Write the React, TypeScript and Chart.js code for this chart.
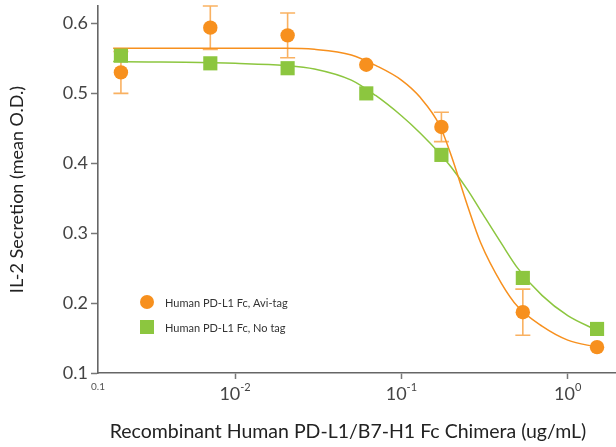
import React, { useEffect, useRef } from "react";
import { Chart, registerables, ChartOptions, Plugin } from "chart.js";

Chart.register(...registerables);

// concentrations (ug/mL)
const concentrations = [0.00206, 0.0071, 0.0207, 0.0615, 0.174, 0.537, 1.5];
const aviTagValues = [0.53, 0.594, 0.583, 0.541, 0.452, 0.187, 0.137];
const aviTagErrors = [0.03, 0.031, 0.032, 0, 0.021, 0.033, 0];
const noTagValues = [0.554, 0.543, 0.536, 0.5, 0.412, 0.236, 0.163];

// fitted curves
const curveX = [
  0.00185, 0.003, 0.005, 0.01, 0.02, 0.03, 0.05, 0.07, 0.1, 0.13, 0.17, 0.2,
  0.25, 0.3, 0.4, 0.5, 0.7, 1.0, 1.5,
];
const aviTagCurve = [
  0.5645, 0.5645, 0.5645, 0.5645, 0.5645, 0.563, 0.555, 0.54, 0.519, 0.494,
  0.454, 0.41, 0.339, 0.286, 0.228, 0.195, 0.167, 0.147, 0.137,
];
const noTagCurve = [
  0.5455, 0.545, 0.5445, 0.543, 0.54, 0.535, 0.519, 0.497, 0.468, 0.443,
  0.414, 0.394, 0.362, 0.332, 0.285, 0.25, 0.211, 0.182, 0.161,
];

const yTicks = [0.1, 0.2, 0.3, 0.4, 0.5, 0.6];
const xTicks = [0.01, 0.1, 1];
const xTickExponents = ["-2", "-1", "0"];
const xMinLabel = "0.1";

const legendLabels = ["Human PD-L1 Fc, Avi-tag", "Human PD-L1 Fc, No tag"];
const xTitle = "Recombinant Human PD-L1/B7-H1 Fc Chimera (ug/mL)";
const yTitle = "IL-2 Secretion (mean O.D.)";

const ORANGE = "#f7901e";
const GREEN = "#8cc63f";
const FONT = "Lato, 'Open Sans', sans-serif";

const errorBars: Plugin<"line"> = {
  id: "errorBars",
  beforeDatasetsDraw(chart) {
    const { ctx } = chart;
    const x = chart.scales.x;
    const y = chart.scales.y;
    ctx.save();
    ctx.strokeStyle = "rgba(247,144,30,0.7)";
    ctx.lineWidth = 1.6;
    concentrations.forEach((c, i) => {
      const e = aviTagErrors[i];
      if (!e) return;
      const px = x.getPixelForValue(c);
      const top = y.getPixelForValue(aviTagValues[i] + e);
      const bot = y.getPixelForValue(aviTagValues[i] - e);
      ctx.beginPath();
      ctx.moveTo(px, top);
      ctx.lineTo(px, bot);
      ctx.moveTo(px - 7.5, top);
      ctx.lineTo(px + 7.5, top);
      ctx.moveTo(px - 7.5, bot);
      ctx.lineTo(px + 7.5, bot);
      ctx.stroke();
    });
    ctx.restore();
  },
};

const extras: Plugin<"line"> = {
  id: "extras",
  afterDraw(chart) {
    const { ctx, chartArea } = chart;
    const x = chart.scales.x;
    const labelY = chartArea.bottom + 27;
    ctx.save();
    ctx.fillStyle = "#444";
    ctx.textBaseline = "alphabetic";
    // x tick labels with superscripts
    xTicks.forEach((t, i) => {
      const px = x.getPixelForValue(t);
      ctx.font = `18px ${FONT}`;
      const w1 = ctx.measureText("10").width;
      ctx.font = `11px ${FONT}`;
      const w2 = ctx.measureText(xTickExponents[i]).width;
      const start = px - (w1 + w2) / 2;
      ctx.font = `18px ${FONT}`;
      ctx.textAlign = "left";
      ctx.fillText("10", start, labelY);
      ctx.font = `11px ${FONT}`;
      ctx.fillText(xTickExponents[i], start + w1, labelY - 9);
    });
    ctx.font = `10px ${FONT}`;
    ctx.textAlign = "center";
    ctx.fillStyle = "#555";
    ctx.fillText(xMinLabel, chartArea.left, chartArea.bottom + 17);

    // x axis title
    ctx.fillStyle = "#222";
    ctx.font = `19.5px ${FONT}`;
    ctx.textBaseline = "middle";
    ctx.fillText(xTitle, chartArea.left + 250, chartArea.bottom + 59);

    // legend
    const lx = chartArea.left + 49;
    const ly = [302, 327];
    ctx.fillStyle = ORANGE;
    ctx.beginPath();
    ctx.arc(lx, ly[0], 7, 0, Math.PI * 2);
    ctx.fill();
    ctx.fillStyle = GREEN;
    ctx.fillRect(lx - 7, ly[1] - 7, 14, 14);
    ctx.fillStyle = "#333";
    ctx.font = `11px ${FONT}`;
    ctx.textAlign = "left";
    legendLabels.forEach((l, i) => ctx.fillText(l, lx + 18, ly[i] + 1));
    ctx.restore();
  },
};

const App: React.FC = () => {
  const canvasRef = useRef<HTMLCanvasElement>(null);

  useEffect(() => {
    if (!canvasRef.current) return;
    const ctx = canvasRef.current.getContext("2d")!;

    const options: ChartOptions<"line"> = {
      responsive: true,
      maintainAspectRatio: false,
      animation: false,
      layout: {
        autoPadding: false,
        padding: { top: 6, left: 0, right: 0, bottom: 0 },
      },
      scales: {
        x: {
          type: "logarithmic",
          min: 0.0015,
          max: 1.95,
          afterBuildTicks: (s) => {
            s.ticks = xTicks.map((v) => ({ value: v }));
          },
          afterFit: (s) => {
            s.height = 74;
            s.paddingLeft = 0;
            s.paddingRight = 0;
          },
          ticks: { display: false },
          grid: {
            drawOnChartArea: false,
            drawTicks: true,
            tickLength: 6,
            tickWidth: 1.5,
            tickColor: "#777",
          },
          border: { color: "#666", width: 1.6 },
        },
        y: {
          type: "linear",
          min: 0.1,
          max: 0.625,
          afterBuildTicks: (s) => {
            s.ticks = yTicks.map((v) => ({ value: v }));
          },
          afterFit: (s) => {
            s.width = 98;
            s.paddingTop = 0;
            s.paddingBottom = 0;
          },
          ticks: {
            font: { family: FONT, size: 18 },
            color: "#444",
            padding: 3,
            callback: (v) => Number(v).toFixed(1),
          },
          grid: {
            drawOnChartArea: false,
            drawTicks: true,
            tickLength: 7,
            tickWidth: 1.5,
            tickColor: "#777",
          },
          border: { color: "#666", width: 1.6 },
          title: {
            display: true,
            text: yTitle,
            font: { family: FONT, size: 18 },
            color: "#222",
            padding: { top: 6, bottom: 0 },
          },
        },
      },
      plugins: {
        legend: { display: false },
        tooltip: { enabled: false },
      },
    };

    const chart = new Chart(ctx, {
      type: "line",
      data: {
        datasets: [
          {
            label: legendLabels[0],
            data: concentrations.map((c, i) => ({ x: c, y: aviTagValues[i] })),
            showLine: false,
            pointStyle: "circle",
            pointRadius: 7.2,
            pointBorderWidth: 0,
            pointBackgroundColor: ORANGE,
            borderColor: ORANGE,
            order: 0,
          },
          {
            label: legendLabels[1],
            data: concentrations.map((c, i) => ({ x: c, y: noTagValues[i] })),
            showLine: false,
            pointStyle: "rect",
            pointRadius: 10,
            pointBorderWidth: 0,
            pointBackgroundColor: GREEN,
            borderColor: GREEN,
            order: 0,
          },
          {
            label: "Avi-tag fit",
            data: curveX.map((c, i) => ({ x: c, y: aviTagCurve[i] })),
            borderColor: ORANGE,
            borderWidth: 1.5,
            pointRadius: 0,
            cubicInterpolationMode: "monotone",
            order: 1,
          },
          {
            label: "No tag fit",
            data: curveX.map((c, i) => ({ x: c, y: noTagCurve[i] })),
            borderColor: GREEN,
            borderWidth: 1.5,
            pointRadius: 0,
            cubicInterpolationMode: "monotone",
            order: 2,
          },
        ],
      },
      options,
      plugins: [errorBars, extras],
    });

    return () => {
      chart.destroy();
    };
  }, []);

  return (
    <div style={{ position: "fixed", left: 0, top: 0, width: 616, height: 447 }}>
      <canvas ref={canvasRef} />
    </div>
  );
};

export default App;
